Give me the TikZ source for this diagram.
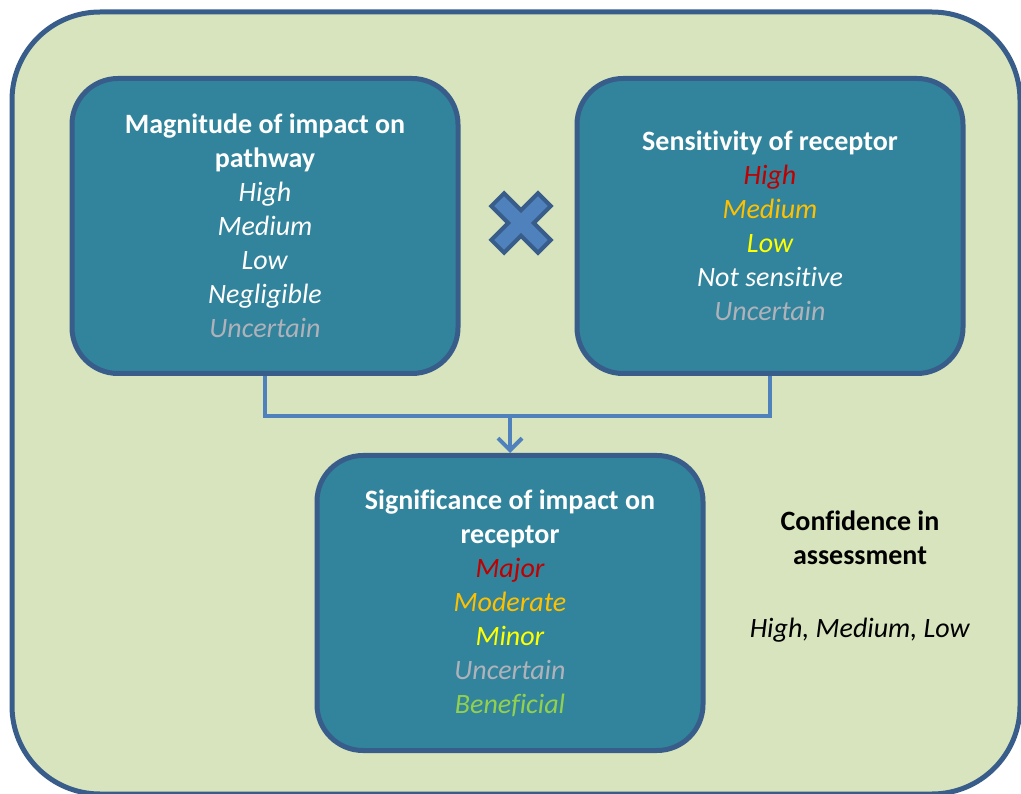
\documentclass[tikz,border=0pt]{standalone}
\usepackage{fontspec}
\setmainfont{Carlito}[Ligatures=NoCommon]
\usepackage{xcolor}
\usepackage{tikz}
\usetikzlibrary{arrows.meta,positioning}
\definecolor{OuterFill}{RGB}{215,228,189}
\definecolor{EdgeBlue}{RGB}{56,93,138}
\definecolor{PanelTeal}{RGB}{49,132,155}
\definecolor{LinkBlue}{RGB}{79,129,189}
\definecolor{RateRed}{RGB}{192,0,0}
\definecolor{RateOrange}{RGB}{255,192,0}
\definecolor{RateYellow}{RGB}{255,255,0}
\definecolor{RateGrey}{RGB}{175,178,186}
\definecolor{RateGreen}{RGB}{146,208,80}
\tikzset{
  frame/.style={draw=EdgeBlue,fill=OuterFill,line width=5pt,rounded corners=88pt},
  panel/.style={draw=EdgeBlue,fill=PanelTeal,line width=5pt,rounded corners=46pt,
                minimum width=386pt,minimum height=295pt,align=center,text=white,
                font=\fontsize{28}{34}\selectfont,inner sep=0pt},
  conf/.style={align=center,text=black,font=\fontsize{28}{34}\selectfont,inner sep=0pt},
  link/.style={draw=LinkBlue,line width=4pt},
  xmark/.style={draw=EdgeBlue,fill=LinkBlue,line width=4pt,line join=miter},
}

\begin{document}
\begin{tikzpicture}[x=1pt,y=-1pt]
  \useasboundingbox (0,0) rectangle (1021,794);
  \draw[frame] (12,12) rectangle (1020,794);

  \node[panel] (magn) at (265,226) {\textbf{Magnitude of impact on}\\\textbf{pathway}\\
    \textit{High}\\\textit{Medium}\\\textit{Low}\\\textit{Negligible}\\
    \textit{\textcolor{RateGrey}{Uncertain}}};
  \node[panel] (sens) at (770,226) {\textbf{Sensitivity of receptor}\\
    \textit{\textcolor{RateRed}{High}}\\\textit{\textcolor{RateOrange}{Medium}}\\
    \textit{\textcolor{RateYellow}{Low}}\\\textit{Not sensitive}\\
    \textit{\textcolor{RateGrey}{Uncertain}}};
  \node[panel] (sig) at (510,603) {\textbf{Significance of impact on}\\\textbf{receptor}\\
    \textit{\textcolor{RateRed}{Major}}\\\textit{\textcolor{RateOrange}{Moderate}}\\
    \textit{\textcolor{RateYellow}{Minor}}\\\textit{\textcolor{RateGrey}{Uncertain}}\\
    \textit{\textcolor{RateGreen}{Beneficial}}};

  % multiply sign between the two inputs
  \draw[xmark,shift={(521,223)},rotate=45] (-9,-33) -- (9,-33) -- (9,-9) -- (33,-9)
    -- (33,9) -- (9,9) -- (9,33) -- (-9,33) -- (-9,9) -- (-33,9) -- (-33,-9)
    -- (-9,-9) -- cycle;

  \coordinate (join) at (510,416);
  \draw[link] (magn.south) |- (join) -| (sens.south);
  \draw[link,-{Straight Barb[length=12pt,width=24pt]}] (join) -- (sig.north);

  \node[conf] (confhd) at (860,538) {\textbf{Confidence in}\\\textbf{assessment}};
  \node[conf,anchor=base] (confrate) at (860,637) {\textit{High, Medium, Low}};
\end{tikzpicture}
\end{document}
